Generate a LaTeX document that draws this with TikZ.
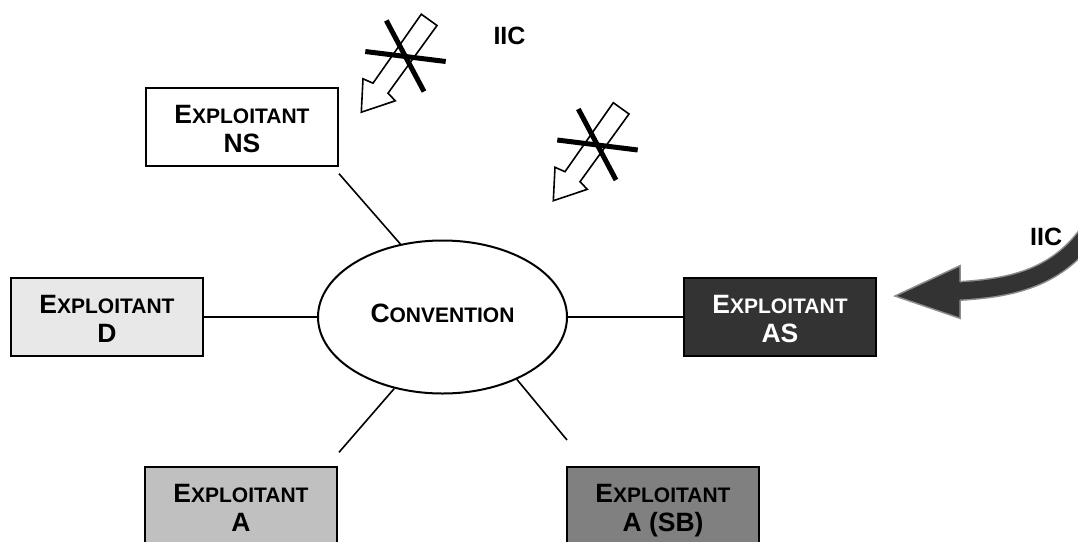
\documentclass[tikz,border=0pt]{standalone}
\usepackage{fontspec}
\setmainfont{Liberation Sans}
\usetikzlibrary{shapes.geometric,calc}

\definecolor{lightfill}{HTML}{E8E8E8}
\definecolor{midfill}{HTML}{C0C0C0}
\definecolor{darkfill}{HTML}{808080}
\definecolor{deepfill}{HTML}{333333}
\definecolor{arrowedge}{HTML}{8C8C8C}

% large initial capital followed by reduced capitals
\newcommand\bigsmall[2]{{\fontsize{26.5pt}{30pt}\selectfont #1}{\fontsize{21pt}{30pt}\selectfont #2}}
\newcommand\fullcap[1]{{\fontsize{26.5pt}{30pt}\selectfont #1}}
% two centred lines with fixed baselines inside a 192 x 78 box
\newcommand\twoline[2]{\vbox to 78pt{\offinterlineskip
  \vskip35pt\hbox to192pt{\hss\smash{#1}\hss}%
  \vskip29.5pt\hbox to192pt{\hss\smash{#2}\hss}\vss}}

% hollow block arrow struck through by a cross
\newcommand\strucktransfer{%
  \filldraw[fill=white, line width=1.6pt, line join=miter]
    (613.3,102.7) -- (629,114) -- (580,181.7) -- (587.3,189.3)
    -- (553.3,200.7) -- (555,167.3) -- (565,171.7) -- cycle;
  \draw[strike] (578.3,109) -- (616,180);
  \draw[strike] (557.3,140) -- (637.7,150);}

\begin{document}
\begin{tikzpicture}[x=1pt, y=-1pt,
  actor/.style={draw, line width=2pt, rectangle, inner sep=0pt,
    minimum width=192pt, minimum height=78pt, font=\bfseries},
  link/.style={line width=1.6pt},
  strike/.style={line width=5pt},
  iic/.style={font=\bfseries\fontsize{25pt}{28pt}\selectfont, inner sep=0pt, anchor=base west}]

\useasboundingbox (0,0) rectangle (1078,541);
\clip (0,0) rectangle (1078,541);

% central agreement
\node[draw, ellipse, line width=2pt, inner sep=0pt,
      minimum width=249pt, minimum height=153pt,
      text height=10pt, text depth=0pt, font=\bfseries]
  (conv) at (442.5,317) {\bigsmall{C}{ONVENTION}};

% operators
\node[actor, fill=white] (ns) at (242,127)
  {\twoline{\bigsmall{E}{XPLOITANT}}{\fullcap{NS}}};
\node[actor, fill=lightfill] (d) at (107,317)
  {\twoline{\bigsmall{E}{XPLOITANT}}{\fullcap{D}}};
\node[actor, fill=deepfill, text=white] (as) at (780,317)
  {\twoline{\bigsmall{E}{XPLOITANT}}{\fullcap{AS}}};
\node[actor, fill=midfill] (a) at (241,506)
  {\twoline{\bigsmall{E}{XPLOITANT}}{\fullcap{A}}};
\node[actor, fill=darkfill] (asb) at (663,506)
  {\twoline{\bigsmall{E}{XPLOITANT}}{\fullcap{A (SB)}}};

% links to the agreement
\draw[link] ($(ns.south east)+(0,6.7)$) -- (conv.120.4);
\draw[link] (d.east |- conv.west) -- (conv.west);
\draw[link] (conv.east) -- (as.west |- conv.east);
\draw[link] ($(a.north east)+(1,-13.7)$) -- (conv.236);
\draw[link] ($(asb.north west)+(1,-26)$) -- (conv.320);

% blocked transfers
\begin{scope}[shift={(-192,-88.5)}]
  \strucktransfer
\end{scope}
\strucktransfer
\node[iic] (iicblocked) at (493.3,44.3) {IIC};

% transfer towards AS
\draw[arrowedge, line width=20pt]
  (959,291) .. controls (1010,288) and (1055,279) .. (1088,234);
\draw[deepfill, line width=17pt]
  (959,291) .. controls (1010,288) and (1055,279) .. (1088,234);
\fill[deepfill] (960,265.7) -- (895,296) -- (960,318.3) -- cycle;
\draw[arrowedge, line width=1.5pt, line join=miter]
  (960,282) -- (960,265.7) -- (895,296) -- (960,318.3) -- (960,300);
\node[iic] (iicgiven) at (1030,245) {IIC};

\end{tikzpicture}
\end{document}
